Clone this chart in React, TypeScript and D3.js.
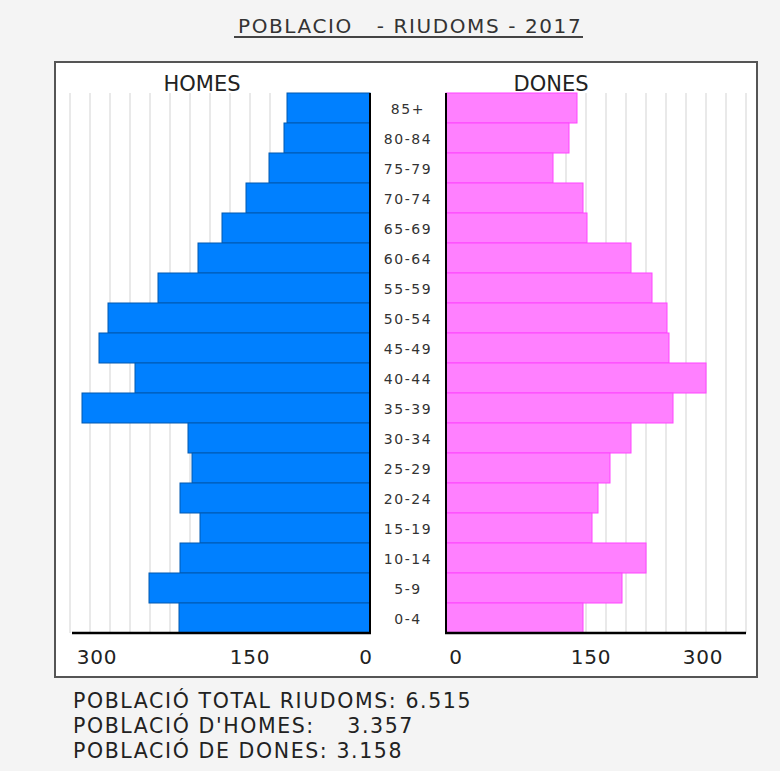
import React, { useRef, useEffect } from 'react';
import * as d3 from 'd3';

const ageGroups = ["85+", "80-84", "75-79", "70-74", "65-69", "60-64", "55-59", "50-54", "45-49",
  "40-44", "35-39", "30-34", "25-29", "20-24", "15-19", "10-14", "5-9", "0-4"];
const homes = [83, 86, 101, 124, 148, 172, 212, 262, 271, 235, 288, 182, 178, 190, 170, 190, 221, 191];
const dones = [131, 123, 107, 137, 141, 185, 206, 221, 223, 260, 227, 185, 164, 152, 146, 200, 176, 137];
const tickValues = [0, 150, 300];
const summaryLines = [
  "POBLACIÓ TOTAL RIUDOMS: 6.515",
  "POBLACIÓ D'HOMES:    3.357",
  "POBLACIÓ DE DONES: 3.158",
];
const title = "POBLACIO   - RIUDOMS - 2017";

const font = "'DejaVu Sans', Verdana, sans-serif";

const Pyramid = ({ width, height }: { width: number; height: number }) => {
  const ref = useRef<SVGSVGElement>(null);

  useEffect(() => {
    const svg = d3.select(ref.current)
      .attr("width", width)
      .attr("height", height);
    svg.selectAll("*").remove();

    const top = 93, bottom = 633;
    const leftZero = 370, rightZero = 446, span = 300;

    const y = d3.scaleBand().domain(ageGroups).range([top, bottom]).padding(0);
    const xMen = d3.scaleLinear().domain([0, 300]).range([leftZero, leftZero - span]);
    const xWomen = d3.scaleLinear().domain([0, 300]).range([rightZero, rightZero + span]);
    // the tick labels in the original sit a bit off their gridlines
    const menLabel = d3.scaleLinear().domain([0, 150, 300]).range([366, 250, 97]);
    const womenLabel = d3.scaleLinear().domain([0, 150, 300]).range([456, 591, 703]);

    svg.append("rect").attr("width", width).attr("height", height).attr("fill", "#f4f4f4");

    // title
    svg.append("text")
      .attr("x", 238).attr("y", 33)
      .attr("font-family", font).attr("font-size", 20).attr("letter-spacing", 1.6)
      .attr("fill", "#333").style("white-space", "pre")
      .text(title);
    svg.append("line")
      .attr("x1", 234).attr("x2", 583).attr("y1", 37).attr("y2", 37)
      .attr("stroke", "#444").attr("stroke-width", 2);

    svg.append("rect")
      .attr("x", 55).attr("y", 62).attr("width", 702).attr("height", 615)
      .attr("fill", "#fff").attr("stroke", "#555").attr("stroke-width", 2);

    // gridlines
    svg.append("g").selectAll("line")
      .data(xMen.ticks(10).filter(d => d > 0))
      .join("line")
      .attr("x1", d => xMen(d)).attr("x2", d => xMen(d))
      .attr("y1", top).attr("y2", bottom)
      .attr("stroke", "#e2e2e2").attr("stroke-width", 1.5);
    svg.append("g").selectAll("line")
      .data(xWomen.ticks(10).filter(d => d > 0))
      .join("line")
      .attr("x1", d => xWomen(d)).attr("x2", d => xWomen(d))
      .attr("y1", top).attr("y2", bottom)
      .attr("stroke", "#e2e2e2").attr("stroke-width", 1.5);

    svg.append("g").selectAll("rect")
      .data(homes)
      .join("rect")
      .attr("x", d => xMen(d))
      .attr("y", (d, i) => y(ageGroups[i])!)
      .attr("width", d => leftZero - xMen(d))
      .attr("height", y.bandwidth())
      .attr("fill", "#0080ff")
      .attr("stroke", "#0058b0").attr("stroke-width", 1);

    svg.append("g").selectAll("rect")
      .data(dones)
      .join("rect")
      .attr("x", rightZero)
      .attr("y", (d, i) => y(ageGroups[i])!)
      .attr("width", d => xWomen(d) - rightZero)
      .attr("height", y.bandwidth())
      .attr("fill", "#ff80ff")
      .attr("stroke", "#ff44ff").attr("stroke-width", 1);

    // axes
    const ax = svg.append("g").attr("stroke", "#000");
    ax.append("line").attr("x1", leftZero).attr("x2", leftZero).attr("y1", top).attr("y2", bottom).attr("stroke-width", 2);
    ax.append("line").attr("x1", rightZero).attr("x2", rightZero).attr("y1", top).attr("y2", bottom).attr("stroke-width", 2);
    ax.append("line").attr("x1", xMen(300) + 2).attr("x2", leftZero + 1).attr("y1", bottom).attr("y2", bottom).attr("stroke-width", 2.5);
    ax.append("line").attr("x1", rightZero - 1).attr("x2", xWomen(300)).attr("y1", bottom).attr("y2", bottom).attr("stroke-width", 2.5);

    svg.append("g").selectAll("text")
      .data(ageGroups)
      .join("text")
      .attr("x", 408)
      .attr("y", d => y(d)! + y.bandwidth() / 2 + 6)
      .attr("text-anchor", "middle")
      .attr("font-family", font).attr("font-size", 14).attr("letter-spacing", 1.6)
      .attr("fill", "#333")
      .text(d => d);

    svg.append("text").attr("x", 202).attr("y", 91).attr("text-anchor", "middle")
      .attr("font-family", font).attr("font-size", 21).attr("fill", "#222").text("HOMES");
    svg.append("text").attr("x", 551).attr("y", 91).attr("text-anchor", "middle")
      .attr("font-family", font).attr("font-size", 21).attr("fill", "#222").text("DONES");

    svg.append("g").selectAll("text")
      .data(tickValues)
      .join("text")
      .attr("x", d => menLabel(d))
      .attr("y", 664)
      .attr("text-anchor", "middle")
      .attr("font-family", font).attr("font-size", 20).attr("letter-spacing", 0.8)
      .attr("fill", "#222")
      .text(d => d);
    svg.append("g").selectAll("text")
      .data(tickValues)
      .join("text")
      .attr("x", d => womenLabel(d))
      .attr("y", 664)
      .attr("text-anchor", "middle")
      .attr("font-family", font).attr("font-size", 20).attr("letter-spacing", 0.8)
      .attr("fill", "#222")
      .text(d => d);

    svg.append("g").selectAll("text")
      .data(summaryLines)
      .join("text")
      .attr("x", 73)
      .attr("y", (d, i) => 708 + i * 25)
      .attr("font-family", font).attr("font-size", 20.5).attr("letter-spacing", 1.6)
      .attr("fill", "#222").style("white-space", "pre")
      .text(d => d);
  }, [width, height]);

  return <svg ref={ref} style={{ position: 'absolute', left: 0, top: 0 }}></svg>;
};

export default function App() {
  return <Pyramid width={780} height={771} />;
}
